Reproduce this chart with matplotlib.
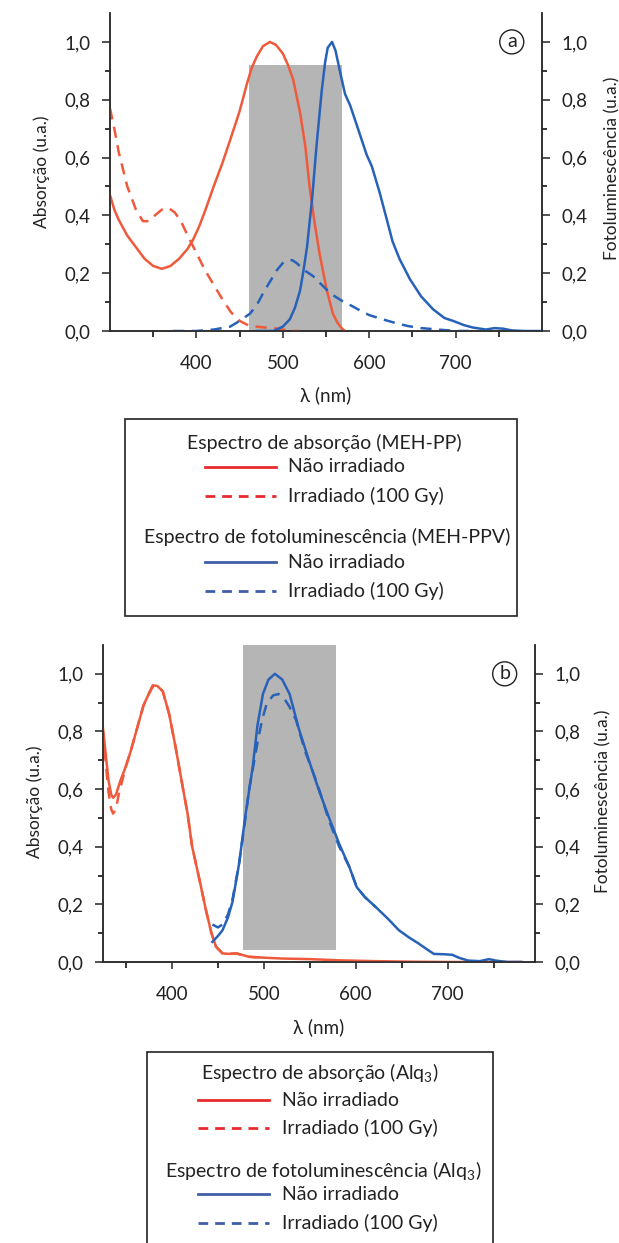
import matplotlib as mpl
import matplotlib.pyplot as plt
from matplotlib.lines import Line2D
from matplotlib.patches import Rectangle

mpl.rcParams.update({
    "font.family": ["Lato", "DejaVu Sans"],
    "mathtext.fontset": "custom",
    "mathtext.rm": "Lato",
    "mathtext.it": "Lato:italic",
    "axes.linewidth": 1.1,
    "axes.edgecolor": "#2b2b2b",
})

W, H = 619, 1243

COLORS = {
    "abs": "#ef5a3c",
    "pl": "#2862b8",
    "abs_leg": "#e82a2e",
    "pl_leg": "#3f5da8",
    "band": "#b5b5b5",
    "ink": "#222222",
}

# ---- panel (a): MEH-PPV ----
abs_a_x = [300, 305, 310, 320, 330, 340, 350, 360, 370, 380, 390, 396, 403, 410, 420, 430,
           439, 450, 458, 464, 470, 477, 485, 492, 500, 506, 512, 520, 526, 531, 537,
           543, 551, 558, 563, 568, 572]
abs_a_y = [0.47, 0.42, 0.385, 0.33, 0.29, 0.25, 0.225, 0.215, 0.225, 0.25, 0.285, 0.315,
           0.36, 0.415, 0.50, 0.58, 0.66, 0.76, 0.85, 0.91, 0.95, 0.985, 1.0, 0.99, 0.96,
           0.92, 0.87, 0.755, 0.64, 0.50, 0.37, 0.26, 0.14, 0.06, 0.03, 0.01, 0.0]

abs_a_irr_x = [300, 305, 310, 320, 330, 338, 345, 352, 360, 368, 375, 382, 390, 400, 410,
               420, 430, 440, 450, 460, 470, 480, 490, 500, 510, 520]
abs_a_irr_y = [0.77, 0.70, 0.62, 0.50, 0.42, 0.38, 0.38, 0.40, 0.42, 0.425, 0.41, 0.38,
               0.33, 0.27, 0.21, 0.16, 0.11, 0.065, 0.035, 0.02, 0.015, 0.012, 0.01, 0.005,
               0.0, 0.0]

pl_a_x = [470, 489, 500, 508, 514, 520, 524, 528, 534, 539, 545, 549, 552, 557, 561, 566,
          572, 578, 587, 597, 603, 607, 612, 620, 627, 635, 647, 660, 674, 687, 697, 710,
          720, 735, 745, 755, 765, 780, 800]
pl_a_y = [0.0, 0.0, 0.015, 0.04, 0.08, 0.14, 0.21, 0.29, 0.46, 0.64, 0.83, 0.93, 0.98, 1.0,
          0.97, 0.90, 0.82, 0.78, 0.70, 0.61, 0.57, 0.53, 0.48, 0.39, 0.31, 0.25, 0.18,
          0.12, 0.075, 0.045, 0.035, 0.02, 0.012, 0.005, 0.01, 0.008, 0.002, 0.0, 0.0]

pl_a_irr_x = [373, 400, 420, 439, 450, 462, 470, 477, 485, 493, 500, 506, 511, 516, 525,
              535, 545, 555, 568, 581, 590, 600, 616, 630, 645, 660, 680, 700, 720]
pl_a_irr_y = [0.0, 0.0, 0.005, 0.015, 0.035, 0.06, 0.09, 0.13, 0.17, 0.21, 0.235, 0.245,
              0.245, 0.235, 0.21, 0.19, 0.16, 0.13, 0.105, 0.085, 0.07, 0.055, 0.04, 0.028,
              0.017, 0.01, 0.005, 0.0, 0.0]

band_a = (461, 568, 0.0, 0.92)

# ---- panel (b): Alq3 ----
abs_b_x = [325, 328, 331, 334, 336, 339, 344, 350, 355, 362, 369, 374, 379, 384, 390, 397,
           404, 411, 417, 422, 430, 437, 443, 448, 455, 462, 470, 477, 484, 500, 520, 550,
           580, 620, 660, 700, 780]
abs_b_y = [0.81, 0.72, 0.63, 0.58, 0.57, 0.58, 0.63, 0.68, 0.73, 0.81, 0.89, 0.925, 0.96,
           0.958, 0.94, 0.86, 0.745, 0.62, 0.515, 0.40, 0.285, 0.18, 0.10, 0.053, 0.03,
           0.028, 0.03, 0.024, 0.018, 0.015, 0.012, 0.01, 0.006, 0.003, 0.001, 0.0, 0.0]

abs_b_irr_x = [325, 328, 331, 334, 336, 339, 342, 350, 355, 362, 369, 374, 379, 384, 390,
               397, 404, 411, 417, 422, 430, 437, 443, 448, 455, 462, 470, 477, 484, 500]
abs_b_irr_y = [0.80, 0.69, 0.59, 0.53, 0.515, 0.53, 0.58, 0.68, 0.73, 0.81, 0.89, 0.925,
               0.955, 0.955, 0.94, 0.86, 0.745, 0.62, 0.515, 0.40, 0.285, 0.18, 0.10, 0.053,
               0.03, 0.028, 0.03, 0.024, 0.018, 0.015]

pl_b_x = [444, 450, 455, 461, 466, 473, 480, 488, 493, 499, 505, 512, 520, 528, 538, 549,
          560, 571, 582, 593, 601, 610, 622, 635, 647, 658, 668, 677, 685, 695, 705, 712,
          722, 735, 745, 752, 765, 780]
pl_b_y = [0.07, 0.09, 0.11, 0.155, 0.21, 0.34, 0.51, 0.68, 0.82, 0.93, 0.98, 1.0, 0.98,
          0.93, 0.81, 0.70, 0.595, 0.50, 0.41, 0.33, 0.26, 0.225, 0.19, 0.15, 0.11, 0.085,
          0.065, 0.045, 0.028, 0.027, 0.025, 0.015, 0.005, 0.003, 0.01, 0.005, 0.0, 0.0]

pl_b_irr_x = [444, 450, 455, 461, 466, 473, 480, 484, 488, 493, 498, 503, 510, 516, 522,
              528, 535, 545, 558, 571, 582, 593, 601, 610, 622]
pl_b_irr_y = [0.13, 0.12, 0.13, 0.165, 0.22, 0.34, 0.50, 0.60, 0.67, 0.76, 0.84, 0.895,
              0.925, 0.93, 0.915, 0.885, 0.84, 0.73, 0.62, 0.49, 0.40, 0.33, 0.26, 0.225,
              0.19]

band_b = (477, 578, 0.04, 1.1)

y_ticks = [0.0, 0.2, 0.4, 0.6, 0.8, 1.0]
y_tick_labels = ["0,0", "0,2", "0,4", "0,6", "0,8", "1,0"]
x_ticks = [400, 500, 600, 700]

legend_a = ["Espectro de absorção (MEH-PP)", "Espectro de fotoluminescência (MEH-PPV)"]
legend_b = ["Espectro de absorção (Alq$_3$)", "Espectro de fotoluminescência (Alq$_3$)"]
entry_labels = ["Não irradiado", "Irradiado (100 Gy)"]

FS = 13.5


def fx(x):
    return x / W


def fy(y):
    return 1 - y / H


def style_axes(ax, ax2, xlim):
    ax.set_xlim(*xlim)
    ax.set_ylim(0, 1.1)
    ax2.set_ylim(0, 1.1)
    for a in (ax, ax2):
        a.spines["top"].set_visible(False)
        a.set_yticks(y_ticks)
        a.set_yticklabels(y_tick_labels)
        a.set_yticks([0.1, 0.3, 0.5, 0.7, 0.9], minor=True)
        a.tick_params(axis="y", which="major", length=6, width=1.1, labelsize=FS, pad=8,
                      colors=COLORS["ink"])
        a.tick_params(axis="y", which="minor", length=3.5, width=1.1)
    ax.set_xticks(x_ticks)
    ax.set_xticklabels([str(v) for v in x_ticks])
    ax.set_xticks([350, 450, 550, 650, 750], minor=True)
    ax.tick_params(axis="x", which="major", length=5, width=1.1, labelsize=FS, pad=12,
                   colors=COLORS["ink"])
    ax.tick_params(axis="x", which="minor", length=4, width=1.1)


def panel(rect, xlim, band, series, letter, letter_x, labels_px):
    ax = fig.add_axes(rect)
    ax2 = ax.twinx()
    ax.patch.set_alpha(0)
    style_axes(ax, ax2, xlim)
    x0, x1, y0, y1 = band
    ax.add_patch(Rectangle((x0, y0), x1 - x0, y1 - y0, facecolor=COLORS["band"],
                           edgecolor="none", zorder=1))
    (ax_x, ax_y), (ai_x, ai_y), (px_x, px_y), (pi_x, pi_y) = series
    ax.plot(ai_x, ai_y, color=COLORS["abs"], lw=1.8, ls=(0, (4.5, 3)), zorder=3)
    ax.plot(ax_x, ax_y, color=COLORS["abs"], lw=1.8, zorder=3)
    ax.plot(pi_x, pi_y, color=COLORS["pl"], lw=1.8, ls=(0, (4.5, 3)), zorder=3)
    ax.plot(px_x, px_y, color=COLORS["pl"], lw=1.8, zorder=3)
    ax.text(letter_x, 1.0, letter, ha="center", va="center", fontsize=14,
            color=COLORS["ink"],
            bbox=dict(boxstyle="circle,pad=0.18", fc="white", ec=COLORS["ink"], lw=1.0))
    (lx, ly), (rx, ry), (bx, by) = labels_px
    fig.text(fx(lx), fy(ly), "Absorção (u.a.)", rotation=90, ha="center", va="center",
             fontsize=12.5, color=COLORS["ink"])
    fig.text(fx(rx), fy(ry), "Fotoluminescência (u.a.)", rotation=90, ha="center",
             va="center", fontsize=12.5, color=COLORS["ink"])
    fig.text(fx(bx), fy(by), "λ (nm)", ha="center", va="center", fontsize=FS,
             color=COLORS["ink"])
    return ax


def legend_box(box, headers, rows):
    bx0, by0, bx1, by1 = box
    fig.add_artist(Rectangle((fx(bx0), fy(by1)), fx(bx1 - bx0), (by1 - by0) / H,
                             transform=fig.transFigure, fill=False,
                             edgecolor=COLORS["ink"], lw=1.2, clip_on=False))
    for (hx, hy), text in zip(headers[0], headers[1]):
        fig.text(fx(hx), fy(hy), text, ha="center", va="center", fontsize=14,
                 color=COLORS["ink"])
    lx0, lx1, tx, ys = rows
    styles = [(COLORS["abs_leg"], "-"), (COLORS["abs_leg"], (0, (3.5, 2.5))),
              (COLORS["pl_leg"], "-"), (COLORS["pl_leg"], (0, (3.5, 2.5)))]
    for y, (c, ls), lab in zip(ys, styles, entry_labels * 2):
        fig.add_artist(Line2D([fx(lx0), fx(lx1)], [fy(y), fy(y)], transform=fig.transFigure,
                              color=c, ls=ls, lw=2.0))
        fig.text(fx(tx), fy(y), lab, ha="left", va="center", fontsize=14,
                 color=COLORS["ink"])


fig = plt.figure(figsize=(W / 100, H / 100), dpi=100)

panel([fx(110), fy(331), fx(432), 318 / H], (300, 800), band_a,
      [(abs_a_x, abs_a_y), (abs_a_irr_x, abs_a_irr_y), (pl_a_x, pl_a_y),
       (pl_a_irr_x, pl_a_irr_y)],
      "a", 765, [(42, 172), (612, 168), (326, 395)])

panel([fx(103), fy(962), fx(432), 317 / H], (325, 795), band_b,
      [(abs_b_x, abs_b_y), (abs_b_irr_x, abs_b_irr_y), (pl_b_x, pl_b_y),
       (pl_b_irr_x, pl_b_irr_y)],
      "b", 762, [(35, 802), (603, 801), (319, 1027)])

legend_box((125, 419, 517, 616),
           ([(324, 443), (327, 537)], legend_a),
           (205, 276, 288, [467, 496, 562, 591]))

legend_box((147, 1052, 493, 1250),
           ([(320, 1073), (323, 1170)], legend_b),
           (198, 269, 282, [1100, 1128, 1194, 1223]))

fig.savefig("out.png", dpi=100)
